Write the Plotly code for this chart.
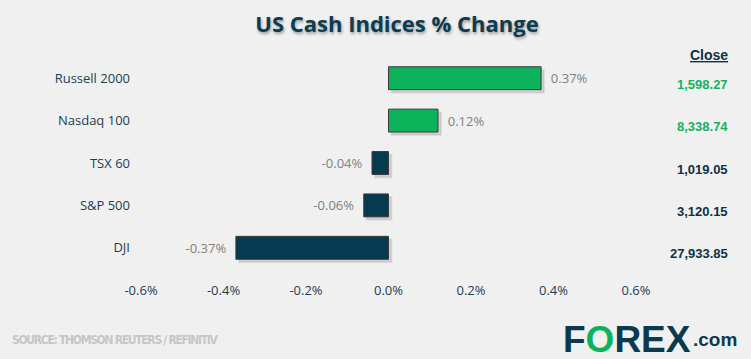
import plotly.graph_objects as go

categories = ["Russell 2000", "Nasdaq 100", "TSX 60", "S&P 500", "DJI"]
changes = [0.37, 0.12, -0.04, -0.06, -0.37]
closes = ["1,598.27", "8,338.74", "1,019.05", "3,120.15", "27,933.85"]
tick_vals = [-0.6, -0.4, -0.2, 0.0, 0.2, 0.4, 0.6]
tick_text = ["-0.6%", "-0.4%", "-0.2%", "0.0%", "0.2%", "0.4%", "0.6%"]

GREEN = "#0db35b"
NAVY = "#063a51"
TEXT = "#1c3d52"
NBSP = "\u00a0"

W, H = 751, 359
ML, MR, MT, MB = 141, 115, 57, 90
PW, PH = W - ML - MR, H - MT - MB
X_RANGE = [-0.6001, 0.6001]
BAR_W = 0.54


def px_x(px):
    return (px - ML) / PW


def px_y(py):
    return (H - MB - py) / PH


# drop-shadow offsets (3px right, 3px down) expressed in axis units
shadow_dx = 3 * (X_RANGE[1] - X_RANGE[0]) / PW
shadow_dy = 3 * len(categories) / PH

bar_colors = [GREEN if v > 0 else NAVY for v in changes]
close_colors = ["#12b360" if v > 0 else "#0f3046" for v in changes]
bar_text = [(NBSP * 2 + f"{v:.2f}%") if v > 0 else (f"{v:.2f}%" + NBSP * 2) for v in changes]

fig = go.Figure()
fig.add_trace(go.Bar(
    y=categories, x=changes, orientation="h",
    base=[shadow_dx] * len(changes),
    width=BAR_W, offset=-BAR_W / 2 + shadow_dy,
    marker=dict(color="rgba(0,0,0,0.13)", line=dict(color="rgba(0,0,0,0.06)", width=2)),
    hoverinfo="skip",
))
fig.add_trace(go.Bar(
    y=categories, x=changes, orientation="h",
    marker=dict(color=bar_colors, line=dict(color="#3a3a3a", width=1)),
    width=BAR_W, offset=-BAR_W / 2,
    text=bar_text,
    textposition="outside",
    constraintext="none",
    textfont=dict(family="Open Sans, sans-serif", size=13, color="#808080"),
    cliponaxis=False,
    hoverinfo="skip",
))

annotations = []
for cat, c, col in zip(categories, closes, close_colors):
    annotations.append(dict(
        x=px_x(730), xref="paper", y=cat, yref="y", yshift=-6,
        text=f"<b>{c}</b>", showarrow=False, xanchor="right", yanchor="middle",
        font=dict(family="Liberation Sans, Arial, sans-serif", size=13, color=col),
    ))
annotations.append(dict(
    x=px_x(730), xref="paper", y=px_y(55), yref="paper",
    text="<b>Close</b>", showarrow=False, xanchor="right", yanchor="middle",
    font=dict(family="Liberation Sans, Arial, sans-serif", size=14, color="#0f3046",
              lineposition="under"),
))
annotations.append(dict(
    x=px_x(10), xref="paper", y=px_y(340), yref="paper",
    text="<span style='letter-spacing:-1.3px'><b>SOURCE: THOMSON REUTERS / REFINITIV</b></span>",
    showarrow=False, xanchor="left", yanchor="middle",
    font=dict(family="DejaVu Sans Condensed, sans-serif", size=12, color="#c6c6c6"),
))
annotations.append(dict(
    x=px_x(693), xref="paper", y=px_y(339), yref="paper",
    text=f"<b>F<span style='color:{GREEN}'>O</span>REX</b>",
    showarrow=False, xanchor="right", yanchor="middle",
    font=dict(family="Liberation Sans, Arial, sans-serif", size=37, color="#0b3a4e"),
))
annotations.append(dict(
    x=px_x(691), xref="paper", y=px_y(339), yref="paper",
    text="<b>.com</b>",
    showarrow=False, xanchor="left", yanchor="middle",
    font=dict(family="Liberation Sans, Arial, sans-serif", size=19, color="#0b3a4e"),
))

fig.update_layout(
    width=W, height=H,
    paper_bgcolor="#f0f0f0", plot_bgcolor="#f0f0f0",
    margin=dict(l=ML, r=MR, t=MT, b=MB, autoexpand=False),
    showlegend=False,
    barmode="overlay",
    title=dict(
        text="<b>US Cash Indices % Change</b>",
        x=397 / W, xref="container", xanchor="center",
        y=1 - 24 / H, yref="container", yanchor="middle",
        font=dict(family="Open Sans, sans-serif", size=22, color="#0d3b50",
                  shadow="1px 2px 3px rgba(0,0,0,0.35)"),
    ),
    xaxis=dict(
        range=X_RANGE, tickvals=tick_vals, ticktext=tick_text,
        showgrid=False, zeroline=False, showline=False,
        tickfont=dict(family="Open Sans, sans-serif", size=13, color=TEXT),
        ticklabelstandoff=12, fixedrange=True,
    ),
    yaxis=dict(
        categoryorder="array", categoryarray=categories, autorange="reversed",
        range=[len(categories) - 0.5, -0.5],
        showgrid=False, zeroline=False, showline=False,
        tickfont=dict(family="Open Sans, sans-serif", size=13, color=TEXT),
        ticklabelstandoff=10, fixedrange=True,
    ),
    annotations=annotations,
)

fig.write_html(
    "out.html",
    config={"displayModeBar": False},
    post_script="document.body.style.margin='0';document.body.style.background='#f0f0f0';",
)
